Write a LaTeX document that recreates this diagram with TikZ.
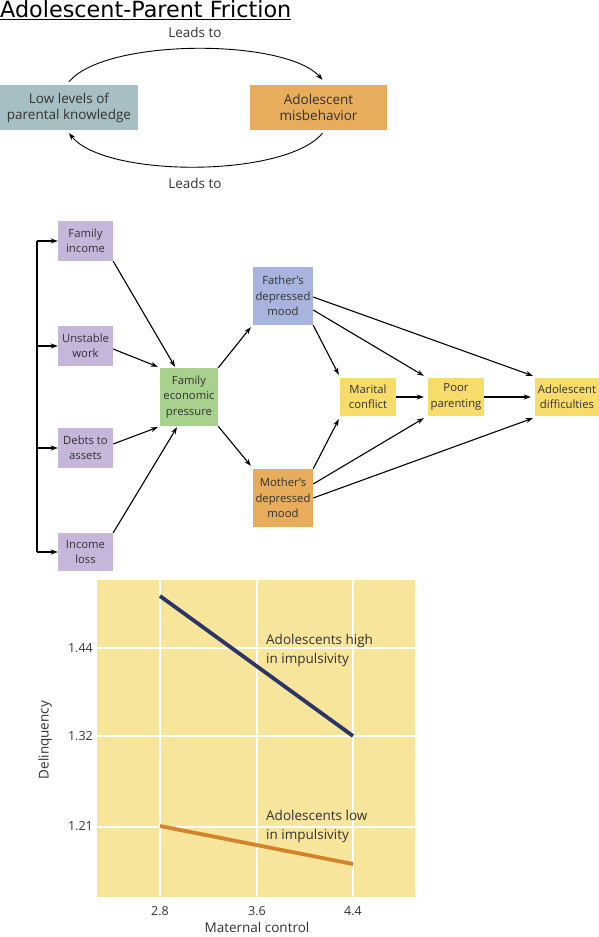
\documentclass[tikz,border=0pt]{standalone}
\usepackage{fontspec}
\setmainfont{Open Sans}
\newfontfamily\titlefont{DejaVu Sans}
\usetikzlibrary{arrows.meta,calc}
\definecolor{teal}{HTML}{A7BFC3}
\definecolor{orng}{HTML}{E7AC5C}
\definecolor{lav}{HTML}{C5B6DA}
\definecolor{grn}{HTML}{A9D18E}
\definecolor{blu}{HTML}{A9B4DE}
\definecolor{yel}{HTML}{F7DC6C}
\definecolor{chartbg}{HTML}{F8E59C}
\definecolor{navy}{HTML}{2C3568}
\definecolor{lineor}{HTML}{D5832B}
\definecolor{txt}{HTML}{333333}
\tikzset{
  topbox/.style={rectangle, inner sep=0pt, align=center, text=txt,
    font=\fontsize{13.5}{16}\selectfont},
  midbox/.style={rectangle, inner sep=0pt, align=center, text=txt,
    font=\fontsize{11.3}{15.5}\selectfont},
  lbl/.style={inner sep=0pt, text=txt, font=\fontsize{13.5}{16}\selectfont},
  chartlbl/.style={inner sep=0pt, text=txt, align=left, anchor=west,
    font=\fontsize{13.5}{19}\selectfont},
  tick/.style={inner sep=0pt, text=txt, font=\fontsize{12.5}{15}\selectfont},
  conn/.style={line width=1.1pt, -{Stealth[length=7pt,width=5pt]}},
  plain/.style={line width=1.1pt},
  grid/.style={white, line width=1.5pt}
}
\begin{document}
\begin{tikzpicture}[x=1pt,y=-1pt]
\useasboundingbox (0,0) rectangle (599,937);
\fill[white] (0,0) rectangle (599,937);

% Title
\node[inner sep=0pt, anchor=base west, font=\titlefont\fontsize{22.3}{25}\selectfont] (title) at (0,17) {\underline{Adolescent-Parent Friction}};

% Top cycle
\node[topbox, fill=teal, minimum width=138pt, minimum height=45pt] (lowk) at (69,107.5) {Low levels of\\parental knowledge};
\node[topbox, fill=orng, minimum width=137pt, minimum height=45pt] (misb) at (318.5,107.5) {Adolescent\\misbehavior};
\node[lbl] (lt1) at (195,32) {Leads to};
\node[lbl] (lt2) at (195,183) {Leads to};
\draw[line width=0.9pt, -{Stealth[length=7pt,width=5pt]}] ([yshift=3pt]lowk.north) .. controls (105,38) and (285,38) .. ([xshift=4pt,yshift=5pt]misb.north);
\draw[line width=0.9pt, -{Stealth[length=7pt,width=5pt]}] ([xshift=4pt,yshift=-3pt]misb.south) .. controls (285,178) and (105,178) .. ([yshift=-3pt]lowk.south);

% Middle diagram
\node[midbox, fill=lav, minimum width=55pt, minimum height=40pt] (finc) at (85.5,241) {Family\\income};
\node[midbox, fill=lav, minimum width=55pt, minimum height=40pt] (unst) at (85.5,346) {Unstable\\work};
\node[midbox, fill=lav, minimum width=55pt, minimum height=40pt] (debt) at (85.5,448) {Debts to\\assets};
\node[midbox, fill=lav, minimum width=55pt, minimum height=38pt] (iloss) at (85.5,552) {Income\\loss};
\node[midbox, fill=grn, minimum width=58pt, minimum height=58pt] (fep) at (189,397) {Family\\economic\\pressure};
\node[midbox, fill=blu, minimum width=60pt, minimum height=58pt] (fath) at (283,296) {Father's\\depressed\\mood};
\node[midbox, fill=orng, minimum width=60pt, minimum height=58pt] (moth) at (283,498) {Mother's\\depressed\\mood};
\node[midbox, fill=yel, minimum width=56pt, minimum height=38pt] (mari) at (368,397) {Marital\\conflict};
\node[midbox, fill=yel, minimum width=56pt, minimum height=38pt] (poor) at (456,397) {Poor\\parenting};
\node[midbox, fill=yel, minimum width=64pt, minimum height=38pt] (adol) at (567,397) {Adolescent\\difficulties};

\coordinate (bt) at (37,241);
\coordinate (bb) at (37,552);
\draw[plain] (bt) -- (bb);
\draw[conn] (bt) -- (finc.west);
\draw[conn] (bt |- unst.west) -- (unst.west);
\draw[conn] (bt |- debt.west) -- (debt.west);
\draw[conn] (bb) -- (iloss.west);

\draw[conn] (finc.south east) -- ([xshift=-14pt,yshift=1pt]fep.north);
\draw[conn] ([yshift=-3pt]unst.east) -- ([xshift=-2pt,yshift=1pt]fep.north west);
\draw[conn] ([yshift=4pt]debt.east) -- ([xshift=-2pt,yshift=-1pt]fep.south west);
\draw[conn] (iloss.north east) -- ([xshift=-12pt,yshift=-1pt]fep.south);
\draw[conn] (fep.north east) -- ([xshift=-2pt,yshift=-2pt]fath.south west);
\draw[conn] (fep.south east) -- ([xshift=-2pt,yshift=3pt]moth.north west);

\draw[conn] ([yshift=-1pt]fath.east) -- ([xshift=-2pt,yshift=2pt]adol.north west);
\draw[conn] ([yshift=-14pt]fath.east) -- ([xshift=-4pt,yshift=2pt]poor.north west);
\draw[conn] (fath.south east) -- ([xshift=-1pt,yshift=3pt]mari.north west);
\draw[conn] (moth.north east) -- ([xshift=-1pt,yshift=-3pt]mari.south west);
\draw[conn] ([yshift=14pt]moth.east) -- ([xshift=-4pt,yshift=-2pt]poor.south west);
\draw[conn] (moth.east) -- ([xshift=-2pt,yshift=-2pt]adol.south west);
\draw[conn] (mari.east) -- ([xshift=-4pt]poor.west);
\draw[conn] (poor.east) -- ([xshift=-4pt]adol.west);

% Chart
\fill[chartbg] (97,580) rectangle (415,897);
\draw[grid] (160,580) -- (160,897);
\draw[grid] (257,580) -- (257,897);
\draw[grid] (353,580) -- (353,897);
\draw[grid] (97,648) -- (415,648);
\draw[grid] (97,736) -- (415,736);
\draw[grid] (97,827) -- (415,827);
\coordinate (h1) at (160,596);
\coordinate (h2) at (353,736);
\coordinate (l1) at (160,826);
\coordinate (l2) at (353,864);
\draw[navy, line width=3.8pt] (h1) -- (h2);
\draw[lineor, line width=3.8pt] (l1) -- (l2);
\node[chartlbl] (hi) at (266,650) {Adolescents high\\in impulsivity};
\node[chartlbl] (lo) at (266,826) {Adolescents low\\in impulsivity};
\node[tick, anchor=east] (y1) at (93,648) {1.44};
\node[tick, anchor=east] (y2) at (93,736) {1.32};
\node[tick, anchor=east] (y3) at (93,826) {1.21};
\node[tick] (x1) at (160,911) {2.8};
\node[tick] (x2) at (257,911) {3.6};
\node[tick] (x3) at (353,911) {4.4};
\node[tick, font=\fontsize{13.5}{16}\selectfont] (xt) at (257,927) {Maternal control};
\node[tick, font=\fontsize{13.5}{16}\selectfont, rotate=90] (yt) at (45,740) {Delinquency};
\end{tikzpicture}
\end{document}
